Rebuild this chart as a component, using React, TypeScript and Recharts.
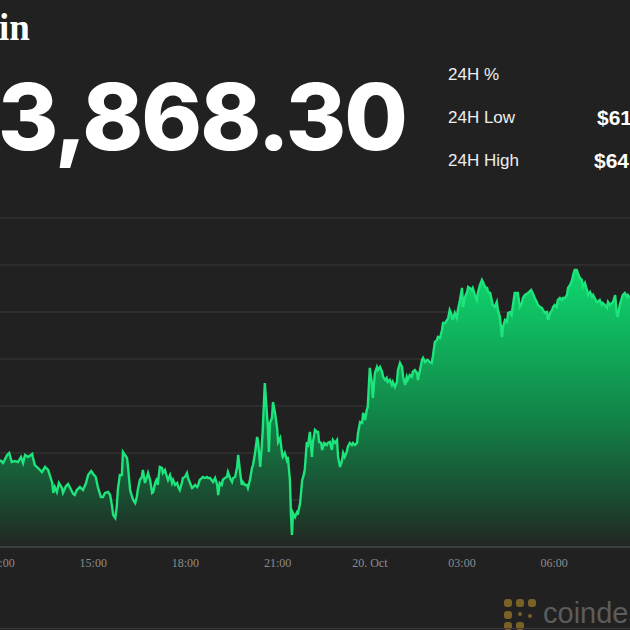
import React from 'react';
import { AreaChart, Area, XAxis, YAxis, CartesianGrid } from 'recharts';

// minutes after 12:00 on 19 Oct, and BTC price in USD
const minutes = [
  -2, 4, 12, 16, 21, 27, 33, 39, 43, 47, 53, 61, 62, 66, 72, 80, 86, 92, 100, 102, 105, 109, 113, 119, 121, 127, 131, 137, 141, 144, 148, 154, 160, 166, 170, 176, 180, 185, 189, 195, 199,
  203, 209, 213, 217, 219, 223, 226, 228, 232, 236, 238, 242, 246, 248, 252, 256, 258, 262, 265, 267, 271, 275, 277, 281, 285, 287, 291, 295, 297, 301, 305, 306, 310,
  314, 316, 320, 324, 326, 330, 334, 336, 340, 344, 346, 349, 353, 355, 359, 363, 365, 369, 373, 375, 379, 383, 385, 388, 392, 394, 398, 402, 404,
  408, 414, 418, 422, 424, 427, 431, 433, 437, 441, 443, 447, 451, 453, 457, 461, 463, 467, 470, 472, 476, 480, 482, 486, 490, 492, 496, 500, 502, 506,
  509, 511, 515, 519, 521, 523, 525, 529, 531, 535, 539, 541, 545, 549, 550, 554, 558, 560, 564, 566, 568, 570, 574, 578, 580, 584, 588, 590, 593, 597, 599, 603, 607, 609,
  613, 617, 619, 621, 625, 627, 631, 636, 638, 642, 646, 648, 652, 656, 658, 662, 666, 668, 671, 675, 677, 681, 685, 687, 691, 695, 697, 701, 705, 707, 711, 714, 716,
  720, 724, 726, 730, 734, 736, 740, 744, 746, 750, 753, 755, 759, 763, 765, 769, 773, 775, 779, 783, 785, 789, 792, 794, 798, 802, 804, 808, 812, 814,
  818, 822, 824, 828, 832, 833, 837, 841, 843, 847, 851, 853, 857, 861, 863, 867, 871, 873, 876, 880, 882, 886, 890, 892, 896,
  900, 902, 906, 910, 912, 915, 919, 921, 925, 929, 931, 935, 939, 941, 945, 949, 951, 955, 958, 960, 964, 968, 970, 974,
  978, 980, 984, 988, 990, 994, 997, 999, 1003, 1007, 1009, 1013, 1017, 1019,
  1023, 1029, 1035, 1038, 1042, 1046, 1048, 1052, 1056, 1058, 1062, 1066, 1068, 1072, 1076, 1078, 1081, 1085, 1087, 1091, 1095, 1097, 1101, 1105, 1107,
  1111, 1115, 1117, 1120, 1124, 1126, 1130, 1134, 1136, 1140, 1144, 1146, 1150, 1154, 1156, 1159, 1163, 1165, 1169, 1173, 1175, 1179, 1183, 1185, 1189,
  1193, 1195, 1199, 1202, 1204, 1208, 1212, 1214, 1218, 1222, 1224, 1228,
];

const prices = [
  61926, 61894, 61979, 62000, 61904, 61915, 61904, 61958, 61894, 61979, 61958, 61990, 61958, 61872, 61841, 61798, 61851, 61819, 61681, 61575, 61638, 61585, 61681, 61628, 61575, 61649, 61670, 61606, 61564, 61553, 61606, 61638, 61606, 61681, 61766, 61809, 61777, 61745, 61638, 61532, 61532,
  61575, 61585, 61553, 61426, 61340, 61309, 61426, 61606, 61766, 61766, 62011, 61979, 61947, 61851, 61606, 61532, 61500, 61468, 61532, 61606, 61713, 61745, 61819, 61681, 61745, 61787, 61713, 61575, 61585, 61681, 61734, 61660, 61851,
  61841, 61787, 61819, 61745, 61713, 61766, 61681, 61713, 61660, 61681, 61638, 61606, 61681, 61734, 61745, 61787, 61734, 61681, 61628, 61638, 61660, 61638, 61660, 61713, 61734, 61745, 61734, 61745, 61734,
  61734, 61692, 61734, 61660, 61553, 61681, 61660, 61713, 61734, 61745, 61798, 61734, 61692, 61734, 61745, 61851, 61979, 61787, 61660, 61692, 61660, 61660, 61628, 61713, 61841, 61872, 62000, 62170, 62117, 61851,
  62064, 62245, 62745, 62426, 62266, 62011, 62319, 62373, 62543, 62426, 62266, 62117, 62160, 61979, 61958, 62000, 61926, 61958, 61713, 61362, 61128, 61362, 61319, 61372, 61362, 61468, 61713, 61745, 61819, 62117, 62064, 62224, 61958, 62117,
  62245, 62224, 62224, 62117, 62107, 62032, 62107, 62085, 62107, 62117, 62032, 62138, 62107, 62138, 61958, 61851, 61926, 62000, 61958, 62011, 62064, 62107, 62085, 62107, 62085, 62107, 62213, 62330, 62319, 62426, 62351, 62458, 62490,
  62905, 62745, 62585, 62851, 62915, 62883, 62915, 62862, 62809, 62777, 62798, 62756, 62777, 62724, 62756, 62702, 62756, 62883, 62958, 62915, 62809, 62724, 62809, 62777, 62830, 62809, 62862, 62883, 62851, 62777,
  62883, 62990, 63011, 62968, 62990, 62990, 62968, 62958, 63022, 63181, 63202, 63234, 63224, 63309, 63383, 63383, 63415, 63437, 63522, 63468, 63415, 63490, 63437, 63522, 63628,
  63756, 63554, 63660, 63713, 63766, 63756, 63734, 63756, 63681, 63628, 63703, 63788, 63841, 63820, 63766, 63756, 63713, 63703, 63628, 63575, 63554, 63607, 63522, 63447,
  63234, 63341, 63415, 63394, 63490, 63500, 63468, 63554, 63703, 63703, 63703, 63554, 63596, 63649,
  63681, 63703, 63734, 63703, 63649, 63607, 63575, 63554, 63543, 63522, 63490, 63500, 63415, 63490, 63522, 63554, 63575, 63554, 63628, 63649, 63628, 63649, 63649, 63681, 63756,
  63788, 63841, 63894, 63947, 63947, 63915, 63862, 63841, 63766, 63809, 63734, 63681, 63713, 63660, 63681, 63649, 63607, 63607, 63628, 63575, 63596, 63575, 63543, 63607, 63575,
  63596, 63607, 63681, 63490, 63447, 63575, 63649, 63681, 63703, 63660, 63681, 63649,
];

const tickMinutes = [0, 180, 360, 540, 720, 900, 1080];
const tickLabels = ['12:00', '15:00', '18:00', '21:00', '20. Oct', '03:00', '06:00'];
const priceGrid = [61000, 61500, 62000, 62500, 63000, 63500, 64000, 64500];

const statLabels = ['24H %', '24H Low', '24H High'];
const statValues = ['', '$61', '$64'];

const data = minutes.map((t, i) => ({ t, price: prices[i] }));

const BG = '#212121';

const App = () => {
  return (
    <div style={{ position: 'absolute', left: 0, top: 0, width: 630, height: 630, background: BG, overflow: 'hidden' }}>
      {/* header */}
      <svg width={630} height={200} style={{ position: 'absolute', left: 0, top: 0 }}>
        <text x={-1} y={40} fill="#fff" fontSize={37} fontWeight={700} fontFamily='"Liberation Serif", serif'>in</text>
        <text x={-2} y={150} fill="#fff" fontSize={92} fontWeight={800} letterSpacing={-2} fontFamily="Inter, sans-serif">3,868.30</text>
        {statLabels.map((s, i) => (
          <text key={s} x={448} y={80 + i * 43} fill="#eee" fontSize={17} fontFamily='"Liberation Sans", sans-serif'>{s}</text>
        ))}
        {statValues.map((v, i) => (
          <text key={i} x={i === 1 ? 597 : 594} y={82 + i * 43} fill="#fff" fontSize={21} fontWeight={700} fontFamily='"Liberation Sans", sans-serif'>{v}</text>
        ))}
      </svg>

      {/* chart */}
      <div style={{ position: 'absolute', left: 0, top: 200 }}>
        <AreaChart width={630} height={377} data={data} margin={{ top: 18, right: 0, left: 0, bottom: 0 }}>
          <defs>
            <linearGradient id="btcFill" x1="0" y1="0" x2="0" y2="1">
              <stop offset="0%" stopColor="#0ed86e" />
              <stop offset="50%" stopColor="#12894a" />
              <stop offset="83%" stopColor="#1a4a30" />
              <stop offset="100%" stopColor="#222622" />
            </linearGradient>
          </defs>
          <CartesianGrid vertical={false} stroke="#3a3a3a" />
          <XAxis
            type="number"
            dataKey="t"
            domain={[-2, 1228]}
            ticks={tickMinutes}
            interval={0}
            allowDataOverflow
            tickFormatter={(v) => tickLabels[tickMinutes.indexOf(v)]}
            tickLine={false}
            tickMargin={5}
            axisLine={{ stroke: '#555' }}
            tick={{ fill: '#8c8c8c', fontSize: 12, fontFamily: '"Liberation Serif", serif' }}
            height={30}
          />
          <YAxis hide domain={[61000, 64500]} ticks={priceGrid} allowDataOverflow />
          <Area
            type="linear"
            dataKey="price"
            stroke="#1ee47c"
            strokeWidth={2.4}
            fill="url(#btcFill)"
            fillOpacity={1}
            isAnimationActive={false}
          />
        </AreaChart>
      </div>

      {/* coindesk mark */}
      <svg width={630} height={40} style={{ position: 'absolute', left: 0, top: 590 }}>
        <g fill="#7a6126">
          <rect x={504} y={9} width={8} height={8} rx={3} />
          <rect x={516} y={9} width={8} height={8} rx={3} />
          <rect x={528} y={9} width={8} height={8} rx={3} />
          <rect x={504} y={21} width={8} height={8} rx={3} />
          <rect x={504} y={32} width={8} height={8} rx={3} />
          <rect x={516} y={32} width={8} height={8} rx={3} />
          <rect x={518} y={22} width={4} height={4} rx={2} />
          <rect x={528} y={24} width={4} height={4} rx={2} />
        </g>
        <text x={543} y={33} fill="#5c5c5c" fontSize={29} fontFamily='"Liberation Sans", sans-serif'>coindesk</text>
        <line x1={0} x2={630} y1={38.5} y2={38.5} stroke="#3c3c3c" />
      </svg>
    </div>
  );
};

export default App;
